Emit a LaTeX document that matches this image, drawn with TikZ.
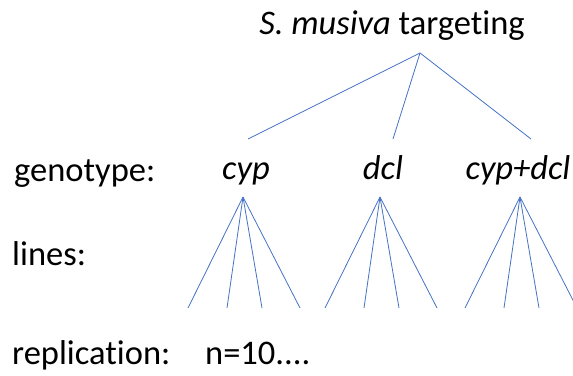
\documentclass[tikz,border=0pt]{standalone}
\usepackage{fontspec}
\setmainfont[Ligatures=NoCommon]{Carlito}
\definecolor{linkblue}{RGB}{68,114,196}
\begin{document}
\begin{tikzpicture}[x=1pt,y=-1pt,
  lbl/.style={inner sep=0pt,font=\fontsize{34.5}{38}\selectfont},
  link/.style={draw=linkblue,line width=0.8pt}]
\useasboundingbox (0,0) rectangle (573,375);
% title
\node[lbl,anchor=base] (title) at (392,34) {\textit{S. musiva} targeting};
\coordinate (root) at (420,53);
% genotype row
\node[lbl,anchor=base west] (genotype) at (14,181) {genotype:};
\node[lbl,anchor=base] (cyp) at (246,179) {\textit{cyp}};
\node[lbl,anchor=base] (dcl) at (383,179) {\textit{dcl}};
\node[lbl,anchor=base] (cypdcl) at (518,179) {\textit{cyp+dcl}};
\coordinate (g1) at (248,139);
\coordinate (g2) at (393,139);
\coordinate (g3) at (531,139);
\draw[link] (root) -- (g1);
\draw[link] (root) -- (g2);
\draw[link] (root) -- (g3);
% lines row
\node[lbl,anchor=base west] (lines) at (12,265) {lines:};
\coordinate (a1) at (243,197);
\coordinate (a2) at (380,197);
\coordinate (a3) at (520,197);
\foreach \a/\x in {a1/243,a2/380,a3/520}{
  \foreach \d [count=\i] in {-55,-16,19,57}{
    \coordinate (\a-\i) at (\x+\d,308);
    \draw[link] (\a) -- (\a-\i);
  }
}
% replication row
\node[lbl,anchor=base west] (replication) at (12,364) {replication:};
\node[lbl,anchor=base west] (n) at (205,364) {n=10....};
\end{tikzpicture}
\end{document}
